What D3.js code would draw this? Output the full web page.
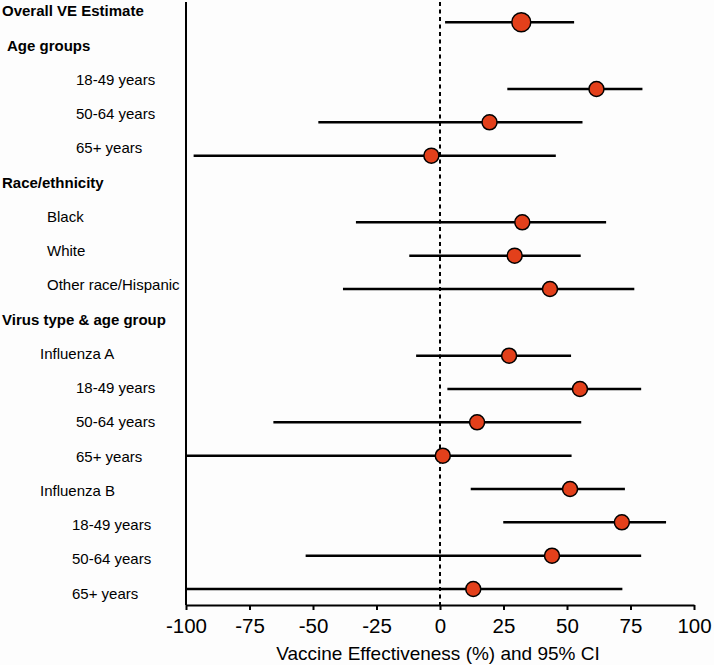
<!DOCTYPE html>
<html>
<head>
<meta charset="utf-8">
<script src="https://cdn.jsdelivr.net/npm/d3@7"></script>
<style>
  html, body { margin: 0; padding: 0; background: #fdfdfd; }
  svg { display: block; font-family: "Liberation Sans", Arial, sans-serif; }
</style>
</head>
<body>
<svg id="chart" width="714" height="665"></svg>
<script>
// ---- data ----
const labels = [
  "Overall VE Estimate", "Age groups", "18-49 years", "50-64 years", "65+ years",
  "Race/ethnicity", "Black", "White", "Other race/Hispanic",
  "Virus type & age group", "Influenza A", "18-49 years", "50-64 years", "65+ years",
  "Influenza B", "18-49 years", "50-64 years", "65+ years"
];
// label hierarchy: h = bold header, h2 = bold sub-header, g = group item,
// v = virus type, s = age sub-item, s2 = age sub-item (influenza B)
const labelLevel = ["h", "h2", "s", "s", "s", "h", "g", "g", "g", "h", "v", "s", "s", "s", "v", "s2", "s2", "s2"];
const estimate = [32.0, null, 61.6, 19.5, -3.4, null, 32.4, 29.4, 43.3, null, 27.2, 55.1, 14.6, 1.1, 51.2, 71.6, 44.1, 13.1];
const lowerCI  = [2.0, null, 26.5, -47.9, -97.0, null, -33.1, -12.1, -38.2, null, -9.4, 2.9, -65.6, -100, 12.1, 24.9, -52.9, -100];
const upperCI  = [52.8, null, 79.7, 56.1, 45.6, null, 65.4, 55.4, 76.5, null, 51.6, 79.2, 55.6, 51.8, 72.8, 89.0, 79.2, 71.8];
const xTicks = [-100, -75, -50, -25, 0, 25, 50, 75, 100];
const xTickLabels = ["-100", "-75", "-50", "-25", "0", "25", "50", "75", "100"];
const xTitle = "Vaccine Effectiveness (%) and 95% CI";

// ---- layout ----
const svg = d3.select("#chart");
const idx = d3.range(labels.length);
const x = d3.scaleLinear().domain([-100, 100]).range([186, 694]);
const yMark = d3.scalePoint().domain(idx).range([22.3, 589]);
const yLabel = d3.scalePoint().domain(idx).range([11, 593.3]);
const axisY = 605;
const levelX = { h: 2, h2: 7, g: 47, v: 40, s: 76, s2: 72 };

// labels
svg.append("g").selectAll("text").data(idx).join("text")
  .attr("x", i => levelX[labelLevel[i]])
  .attr("y", i => yLabel(i))
  .attr("dy", "0.36em")
  .attr("font-size", 15)
  .attr("font-weight", i => (labelLevel[i] === "h" || labelLevel[i] === "h2") ? "bold" : "normal")
  .attr("fill", "#000")
  .text(d => labels[d]);

// left vertical line
svg.append("line")
  .attr("x1", x(-100)).attr("x2", x(-100))
  .attr("y1", 2).attr("y2", axisY)
  .attr("stroke", "#000").attr("stroke-width", 2);

// reference dashed line at 0
svg.append("line")
  .attr("x1", x(0)).attr("x2", x(0))
  .attr("y1", 2).attr("y2", axisY)
  .attr("stroke", "#000").attr("stroke-width", 2)
  .attr("stroke-dasharray", "4,3.5");

// x axis
const axis = d3.axisBottom(x).tickValues(xTicks).tickSize(5).tickSizeOuter(0).tickPadding(8)
  .tickFormat((d, i) => xTickLabels[i]);
const gx = svg.append("g").attr("transform", `translate(0,${axisY})`).call(axis);
gx.select(".domain").attr("stroke", "#000").attr("stroke-width", 2);
gx.selectAll(".tick line").attr("stroke", "#000").attr("stroke-width", 2);
gx.selectAll(".tick text").attr("font-size", 20.5).attr("fill", "#000")
  .attr("font-family", "'Liberation Sans', Arial, sans-serif");

svg.append("text")
  .attr("x", 438).attr("y", 660)
  .attr("text-anchor", "middle")
  .attr("font-size", 19)
  .attr("fill", "#000")
  .text(xTitle);

// CI lines and points
const rows = idx.filter(i => estimate[i] !== null);
const clamp = v => Math.max(-100, Math.min(100, v));
svg.append("g").selectAll("line").data(rows).join("line")
  .attr("x1", i => x(clamp(lowerCI[i])))
  .attr("x2", i => x(clamp(upperCI[i])))
  .attr("y1", i => yMark(i)).attr("y2", i => yMark(i))
  .attr("stroke", "#000").attr("stroke-width", 2.5);

svg.append("g").selectAll("circle").data(rows).join("circle")
  .attr("cx", i => x(estimate[i]))
  .attr("cy", i => yMark(i))
  .attr("r", i => i === 0 ? 9.5 : 7.5)
  .attr("fill", "#e3401b")
  .attr("stroke", "#000").attr("stroke-width", 1.5);
</script>
</body>
</html>
